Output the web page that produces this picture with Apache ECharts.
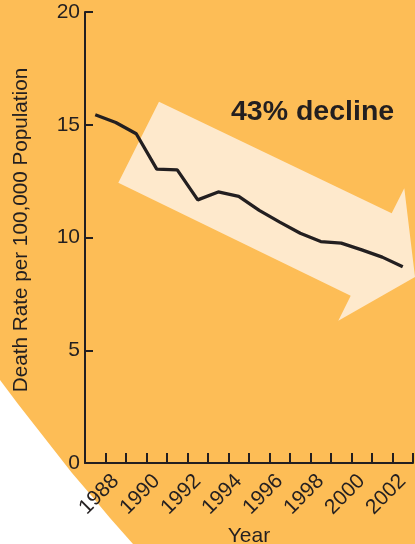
<!DOCTYPE html>
<html>
<head>
<meta charset="utf-8">
<script src="https://cdn.jsdelivr.net/npm/echarts@6/dist/echarts.min.js"></script>
<style>
html,body{margin:0;padding:0;background:#fff;}
#c{width:415px;height:544px;}
</style>
</head>
<body>
<div id="c"></div>
<script>
var years = ['1987','1988','1989','1990','1991','1992','1993','1994','1995','1996','1997','1998','1999','2000','2001','2002'];
var deathRate = [15.44, 15.1, 14.6, 13.03, 13.0, 11.67, 12.02, 11.82, 11.2, 10.68, 10.19, 9.82, 9.75, 9.45, 9.13, 8.7];
var yTicks = [0, 5, 10, 15, 20];
var annotation = '43% decline';

var ink = '#231f20';
var orange = '#fdbd56';
var cream = '#fee9cc';
var font = '"Liberation Sans", Arial, Helvetica, sans-serif';

var chart = echarts.init(document.getElementById('c'), null, {renderer: 'canvas'});
chart.setOption({
  backgroundColor: orange,
  animation: false,
  textStyle: {fontFamily: font},
  grid: {left: 85, right: 2, top: 12, bottom: 81, containLabel: false, outerBoundsMode: 'none'},
  graphic: [
    {
      type: 'polygon', z: -10, silent: true,
      shape: {points: [[0, 380], [18, 404], [36, 427], [54, 450], [72, 473], [90, 494], [110, 518], [133, 544], [0, 544]]},
      style: {fill: '#ffffff'}
    },
    {
      type: 'polygon', z: -9, silent: true,
      shape: {points: [[159, 101.7], [391.7, 213.3], [404.3, 188.3], [415, 277], [338.3, 320.7], [350.7, 295.7], [118.3, 182.7]]},
      style: {fill: cream}
    },
    {
      type: 'text', left: 231, top: 98, z: 5,
      style: {text: annotation, font: 'bold 28.5px ' + font, fill: ink}
    }
  ],
  xAxis: {
    type: 'category',
    data: years,
    boundaryGap: true,
    name: 'Year',
    nameLocation: 'middle',
    nameGap: 58,
    nameTextStyle: {color: ink, fontSize: 21, fontFamily: font},
    axisLine: {lineStyle: {color: ink, width: 2}},
    axisTick: {show: true, inside: true, length: 10, interval: 0, lineStyle: {color: ink, width: 2}},
    axisLabel: {
      color: ink, fontSize: 21, fontFamily: font, rotate: 45, margin: 15,
      interval: function (i) { return i % 2 === 1; }
    },
    splitLine: {show: false}
  },
  yAxis: {
    type: 'value',
    min: 0, max: 20, interval: 5,
    name: 'Death Rate per 100,000 Population',
    nameLocation: 'middle',
    nameGap: 53,
    nameTextStyle: {color: ink, fontSize: 20.7, fontFamily: font, padding: [0, 0, 0, 15]},
    axisLine: {show: true, lineStyle: {color: ink, width: 2}},
    axisTick: {show: true, inside: true, length: 8, lineStyle: {color: ink, width: 2}},
    axisLabel: {color: ink, fontSize: 21, fontFamily: font, margin: 5,
      formatter: function (v) { return yTicks.indexOf(v) >= 0 ? String(v) : ''; }},
    splitLine: {show: false}
  },
  series: [{
    type: 'line',
    data: deathRate,
    showSymbol: false,
    symbol: 'none',
    lineStyle: {color: ink, width: 3.3},
    z: 3
  }]
});
</script>
</body>
</html>
